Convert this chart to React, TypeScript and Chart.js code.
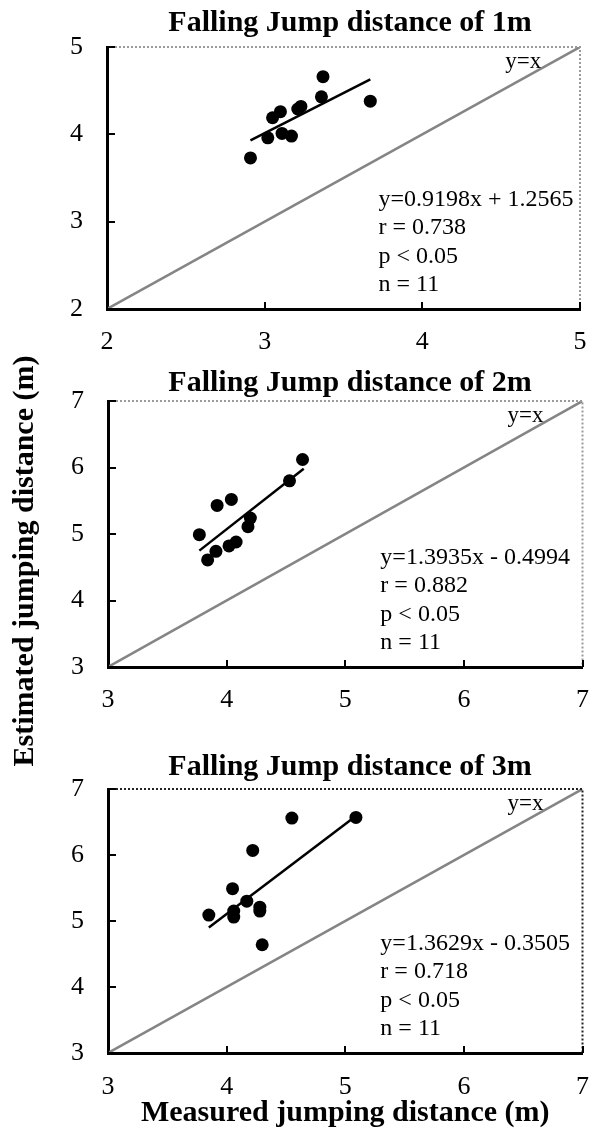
import React, { useEffect, useRef } from 'react';
import { Chart, registerables } from 'chart.js';

Chart.register(...registerables);

const FONT = "'Times New Roman', 'Liberation Serif', serif";

// ---------- data ----------
const panelTitles = [
  'Falling Jump distance of 1m',
  'Falling Jump distance of 2m',
  'Falling Jump distance of 3m',
];

const measured1 = [2.91, 3.02, 3.05, 3.10, 3.11, 3.17, 3.21, 3.23, 3.36, 3.37, 3.67];
const estimated1 = [3.73, 3.96, 4.19, 4.26, 4.01, 3.98, 4.29, 4.32, 4.43, 4.66, 4.38];
const fitX1 = [2.91, 3.67];
const fitY1 = [3.93, 4.63];

const measured2 = [3.77, 3.84, 3.91, 3.92, 4.02, 4.04, 4.08, 4.18, 4.20, 4.53, 4.64];
const estimated2 = [4.99, 4.61, 4.74, 5.43, 4.82, 5.52, 4.88, 5.11, 5.24, 5.80, 6.12];
const fitX2 = [3.77, 4.65];
const fitY2 = [4.75, 5.98];

const measured3 = [3.85, 4.06, 4.06, 4.05, 4.17, 4.28, 4.28, 4.30, 4.22, 4.55, 5.09];
const estimated3 = [5.09, 5.15, 5.06, 5.49, 5.30, 5.21, 5.15, 4.64, 6.07, 6.56, 6.57];
const fitX3 = [3.85, 5.09];
const fitY3 = [4.90, 6.59];

const axisMin = [2, 3, 3];
const axisMax = [5, 7, 7];

const statText1 = ['y=0.9198x + 1.2565', 'r = 0.738', 'p < 0.05', 'n = 11'];
const statText2 = ['y=1.3935x - 0.4994', 'r = 0.882', 'p < 0.05', 'n = 11'];
const statText3 = ['y=1.3629x - 0.3505', 'r = 0.718', 'p < 0.05', 'n = 11'];

const identityLabel = 'y=x';
const xAxisTitle = 'Measured jumping distance (m)';
const yAxisTitle = 'Estimated jumping distance (m)';

// ---------- layout (positions / sizes / styles) ----------
const W = 589;
const H = 1137;
const layouts = [
  { padTop: 47, padBottom: 767, padRight: 9, titleY: 23, yWidth: 107, xHeight: 61, xPad: 18, frame: '#9a9a9a', showXTitle: false, showYTitle: false },
  { padTop: 401, padBottom: 422, padRight: 6, titleY: 383, yWidth: 108, xHeight: 48, xPad: 18, frame: '#9a9a9a', showXTitle: false, showYTitle: true },
  { padTop: 789, padBottom: 0, padRight: 6, titleY: 767, yWidth: 108, xHeight: 84, xPad: 19, frame: '#222222', showXTitle: true, showYTitle: false },
];

const decorPlugin = {
  id: 'decor',
  afterDatasetsDraw(chart: any, _args: any, opts: any) {
    const { ctx, chartArea } = chart;
    const { left, right, top, bottom } = chartArea;
    ctx.save();
    ctx.strokeStyle = opts.frame;
    ctx.lineWidth = 2;
    ctx.setLineDash([2, 2]);
    ctx.beginPath();
    ctx.moveTo(left, top);
    ctx.lineTo(right, top);
    ctx.lineTo(right, bottom);
    ctx.stroke();
    ctx.restore();
  },
  afterDraw(chart: any, _args: any, opts: any) {
    const { ctx, chartArea, scales } = chart;
    const { left, right, top, bottom } = chartArea;
    ctx.save();
    // inward tick marks
    ctx.strokeStyle = '#000';
    ctx.lineWidth = 2;
    ctx.beginPath();
    scales.x.ticks.forEach((t: any) => {
      const px = Math.round(scales.x.getPixelForValue(t.value));
      ctx.moveTo(px, bottom);
      ctx.lineTo(px, bottom - 7);
    });
    scales.y.ticks.forEach((t: any) => {
      const py = Math.round(scales.y.getPixelForValue(t.value));
      ctx.moveTo(left, py);
      ctx.lineTo(left + 8, py);
    });
    ctx.stroke();

    const w = right - left;
    ctx.fillStyle = '#000';

    // panel title
    ctx.font = `bold 30px ${FONT}`;
    ctx.textAlign = 'center';
    ctx.textBaseline = 'middle';
    ctx.fillText(opts.title, 350, opts.titleY);

    // statistics text
    ctx.font = `24px ${FONT}`;
    ctx.textAlign = 'left';
    const lines: string[] = opts.lines;
    lines.forEach((s, i) => {
      ctx.fillText(s, left + 0.574 * w, bottom - 24 - (lines.length - 1 - i) * 28.5);
    });

    // identity label
    ctx.font = `23px ${FONT}`;
    ctx.textAlign = 'center';
    ctx.fillText(opts.identity, left + 0.88 * w, top + 15);

    // shared y-axis title
    if (opts.yTitle) {
      ctx.translate(25, 561);
      ctx.rotate(-Math.PI / 2);
      ctx.font = `bold 30px ${FONT}`;
      ctx.textAlign = 'center';
      ctx.textBaseline = 'middle';
      ctx.fillText(opts.yTitle, 0, 0);
    }
    ctx.restore();
  },
};

const panelData = [
  { mx: measured1, ey: estimated1, fx: fitX1, fy: fitY1, stats: statText1 },
  { mx: measured2, ey: estimated2, fx: fitX2, fy: fitY2, stats: statText2 },
  { mx: measured3, ey: estimated3, fx: fitX3, fy: fitY3, stats: statText3 },
];

function makeConfig(i: number): any {
  const d = panelData[i];
  const L = layouts[i];
  const lo = axisMin[i];
  const hi = axisMax[i];
  const tickFont = { family: FONT, size: 26 };
  return {
    type: 'scatter',
    data: {
      datasets: [
        {
          label: 'points',
          data: d.mx.map((x, k) => ({ x, y: d.ey[k] })),
          pointRadius: 6.5,
          pointHoverRadius: 6.5,
          backgroundColor: '#000',
          borderColor: '#000',
          borderWidth: 0,
        },
        {
          label: 'fit',
          data: d.fx.map((x, k) => ({ x, y: d.fy[k] })),
          showLine: true,
          pointRadius: 0,
          borderColor: '#000',
          borderWidth: 2.5,
          fill: false,
        },
        {
          label: 'identity',
          data: [
            { x: lo, y: lo },
            { x: hi, y: hi },
          ],
          showLine: true,
          pointRadius: 0,
          borderColor: '#858585',
          borderWidth: 2.5,
          fill: false,
        },
      ],
    },
    options: {
      responsive: false,
      animation: false,
      events: [],
      color: '#000',
      layout: {
        padding: { top: L.padTop, bottom: L.padBottom, left: 0, right: L.padRight },
      },
      plugins: {
        legend: { display: false },
        tooltip: { enabled: false },
        title: { display: false },
        decor: {
          frame: L.frame,
          title: panelTitles[i],
          titleY: L.titleY,
          lines: d.stats,
          identity: identityLabel,
          yTitle: L.showYTitle ? yAxisTitle : null,
        },
      },
      scales: {
        x: {
          type: 'linear',
          min: lo,
          max: hi,
          ticks: { stepSize: 1, font: tickFont, color: '#000', padding: 0, maxRotation: 0 },
          grid: { display: false, drawTicks: true, tickLength: L.xPad },
          border: { display: true, color: '#000', width: 3 },
          title: {
            display: L.showXTitle,
            text: xAxisTitle,
            color: '#000',
            font: { family: FONT, size: 30, weight: 'bold', lineHeight: 1.2 },
            padding: { top: 0, bottom: 6 },
          },
          afterFit: (s: any) => {
            s.height = L.xHeight;
          },
        },
        y: {
          type: 'linear',
          min: lo,
          max: hi,
          ticks: { stepSize: 1, font: tickFont, color: '#000', padding: 24 },
          grid: { display: false, drawTicks: false },
          border: { display: true, color: '#000', width: 3 },
          afterFit: (s: any) => {
            s.width = L.yWidth;
          },
        },
      },
    },
    plugins: [decorPlugin],
  };
}

export default function App() {
  const refs = [useRef<HTMLCanvasElement>(null), useRef<HTMLCanvasElement>(null), useRef<HTMLCanvasElement>(null)];

  useEffect(() => {
    const charts = refs.map((r, i) => new Chart(r.current as HTMLCanvasElement, makeConfig(i)));
    return () => charts.forEach((c) => c.destroy());
  }, []);

  return (
    <div style={{ position: 'absolute', left: 0, top: 0, width: W, height: H, background: '#fff' }}>
      {refs.map((r, i) => (
        <canvas
          key={i}
          ref={r}
          width={W}
          height={H}
          style={{ position: 'absolute', left: 0, top: 0, width: W, height: H }}
        />
      ))}
    </div>
  );
}
